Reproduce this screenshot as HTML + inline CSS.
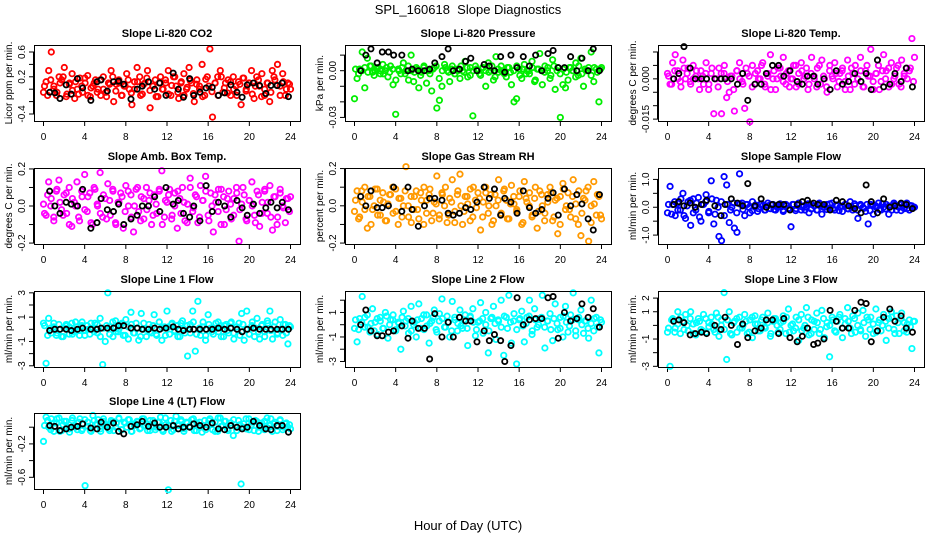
<!DOCTYPE html>
<html><head><meta charset="utf-8">
<style>
html,body{margin:0;padding:0;background:#fff;}
svg{display:block;font-family:"Liberation Sans",sans-serif;}
</style></head>
<body>
<svg id="chart" width="936" height="540" viewBox="0 0 936 540">
<text x="468" y="14" text-anchor="middle" font-size="13" xml:space="preserve">SPL_160618  Slope Diagnostics</text>
<text x="468" y="530" text-anchor="middle" font-size="13">Hour of Day (UTC)</text>
</svg>
<script>
const xTicks = [0,4,8,12,16,20,24];
const blackHours = [0.6,1.1,1.6,2.2,2.7,3.3,3.8,4.6,5.2,5.6,6.2,6.8,7.3,7.8,8.5,9.1,9.6,10.2,10.8,11.3,11.9,12.6,13.1,13.6,14.2,14.6,15.2,15.8,16.4,17.0,17.6,18.2,18.8,19.3,19.8,20.4,21.0,21.6,22.1,22.7,23.2,23.8];

const titles = ["Slope Li-820 CO2","Slope Li-820 Pressure","Slope Li-820 Temp.","Slope Amb. Box Temp.","Slope Gas Stream RH","Slope Sample Flow","Slope Line 1 Flow","Slope Line 2 Flow","Slope Line 3 Flow","Slope Line 4 (LT) Flow"];
const yTitles = ["Licor ppm per min.","kPa per min.","degrees C per min.","degrees C per min.","percent per min.","ml/min per min.","ml/min per min.","ml/min per min.","ml/min per min.","ml/min per min."];
const yLims = [[-0.513,0.713],[-0.0323,0.0165],[-0.0157,0.0126],[-0.205,0.205],[-0.205,0.203],[-1.32,1.41],[-3.1,3.15],[-3.45,2.75],[-3.05,2.52],[-0.74,0.17]];
const yTickVals = [[-0.4,-0.2,0,0.2,0.4,0.6],[-0.03,-0.02,-0.01,0,0.01],[-0.015,-0.01,-0.005,0,0.005,0.01],[-0.2,-0.1,0,0.1,0.2],[-0.2,-0.1,0,0.1,0.2],[-1,-0.5,0,0.5,1],[-3,-2,-1,0,1,2,3],[-3,-2,-1,0,1,2],[-3,-2,-1,0,1,2],[-0.6,-0.4,-0.2,0]];
const yTickLabels = [["-0.4","","","0.2","","0.6"],["-0.03","","","0.00",""],["-0.015","","","0.000","",""],["-0.2","","0.0","","0.2"],["-0.2","","0.0","","0.2"],["-1.0","","0.0","","1.0"],["-3","","-1","","1","","3"],["-3","","-1","","1",""],["-3","","-1","","1","2"],["-0.6","","-0.2",""]];
const colors = ["#ff0000","#00ee00","#ff00ff","#ff00ff","#ff9900","#0000ff","#00ffff","#00ffff","#00ffff","#00ffff"];

const s1 = [-0.05,0.12,0.3,0.6,0.05,-0.1,0.2,0.15,0.35,-0.08,0.1,0.25,-0.15,0.0,0.18,-0.05,0.1,0.22,-0.12,0.05,0.15,0.0,-0.1,0.2,-0.05,0.1,0.3,-0.2,0.08,0.15,-0.1,0.05,0.25,0.0,-0.25,0.12,0.35,0.2,-0.08,0.1,0.3,-0.3,0.05,0.15,-0.12,0.2,0.0,0.1,0.3,-0.1,0.2,0.05,-0.15,0.12,0.25,0.0,0.35,0.1,-0.2,0.15,0.05,0.4,-0.1,0.2,0.65,-0.45,0.1,0.2,0.3,-0.05,0.1,0.15,-0.1,0.2,0.05,0.12,-0.25,0.18,0.0,0.1,0.3,-0.15,0.2,0.05,0.25,-0.1,0.1,-0.2,0.3,0.15,0.4,0.05,0.25,-0.1,0.1,0.0];
const s2 = [-0.018,-0.005,0.001,0.012,-0.011,0.008,0.003,-0.001,0.0,0.002,-0.002,0.004,0.0,-0.004,0.003,-0.009,-0.028,0.001,-0.002,0.005,0.0,-0.006,0.01,-0.007,0.002,-0.011,-0.001,0.003,-0.008,0.0,-0.013,0.002,-0.024,-0.019,-0.01,0.004,0.0,-0.007,0.003,-0.002,0.001,-0.005,0.0,0.006,-0.004,0.002,-0.029,0.003,0.0,-0.003,0.002,-0.01,0.005,0.0,-0.006,0.009,-0.001,0.003,0.0,-0.004,0.002,-0.009,-0.02,-0.018,0.001,-0.005,0.004,0.0,-0.002,0.006,-0.007,0.001,0.011,-0.009,0.003,0.0,-0.005,0.007,-0.012,0.002,-0.03,-0.009,-0.011,-0.006,0.002,0.0,0.005,-0.003,0.008,-0.01,0.0,0.002,0.012,-0.007,0.001,-0.02,0.002];
const s3 = [0.002,-0.002,0.006,0.009,0.003,-0.001,0.007,0.0,0.004,-0.002,0.005,0.001,0.0,0.003,-0.002,0.006,-0.004,0.002,-0.013,0.0,0.004,-0.013,0.002,-0.007,-0.005,0.001,-0.012,0.003,0.006,-0.001,-0.011,0.002,-0.016,0.005,-0.002,0.003,0.0,0.006,-0.003,0.002,0.009,0.0,-0.004,0.004,0.001,0.008,-0.002,0.003,0.0,0.005,-0.003,0.002,0.006,0.0,0.004,-0.002,0.008,0.001,-0.003,0.005,0.007,0.0,-0.005,0.003,0.001,0.006,-0.003,0.002,0.004,-0.001,0.007,-0.004,0.002,0.005,0.0,0.008,-0.003,0.003,0.001,0.011,-0.004,0.002,0.005,-0.001,0.009,0.003,-0.003,0.006,0.0,0.004,-0.002,0.007,0.001,0.004,0.003,0.015,0.008];
const s4 = [0.01,-0.05,0.13,0.04,-0.06,0.08,0.14,-0.02,0.06,-0.04,0.1,-0.11,0.02,0.13,-0.08,0.05,0.17,-0.03,0.07,-0.1,0.09,0.0,0.18,-0.06,0.04,0.12,-0.05,0.08,-0.09,0.02,0.07,-0.12,0.11,0.0,0.06,-0.14,0.09,-0.03,0.05,-0.07,0.1,0.03,-0.1,0.06,-0.04,0.08,0.19,-0.06,0.02,0.09,-0.05,0.07,-0.12,0.04,0.1,-0.08,0.01,0.15,-0.03,0.06,-0.09,0.11,0.03,0.16,-0.05,0.07,-0.14,0.02,0.09,-0.1,0.05,-0.02,0.08,-0.07,0.04,0.1,-0.19,0.01,0.06,-0.08,0.03,0.13,-0.05,0.08,-0.11,0.02,0.09,-0.04,0.11,-0.13,0.05,-0.06,0.07,0.0,-0.09,0.04,0.05];
const s5 = [-0.03,0.08,-0.06,0.02,0.1,-0.12,0.05,-0.02,0.09,-0.05,0.03,0.07,-0.08,0.01,0.06,-0.04,0.09,-0.1,0.04,0.0,0.21,-0.06,0.05,-0.02,0.08,-0.07,0.03,0.1,-0.04,0.06,-0.08,0.02,0.16,-0.05,0.07,0.0,-0.09,0.04,0.14,-0.03,0.06,0.17,-0.1,0.05,0.01,0.09,-0.06,0.03,0.07,-0.13,0.02,0.1,-0.04,0.06,-0.08,0.0,0.14,-0.05,0.08,0.03,-0.07,0.11,0.01,-0.03,0.05,-0.1,0.13,0.02,0.07,-0.06,0.04,-0.12,0.08,0.0,-0.04,0.06,0.1,-0.08,0.03,-0.15,0.05,0.12,-0.02,0.07,-0.06,0.14,0.01,-0.1,-0.16,0.04,0.08,-0.19,0.0,0.13,-0.05,0.05,-0.07];
const s6 = [-0.2,0.75,0.1,-0.3,0.15,-0.1,0.5,-0.4,0.2,-0.65,0.3,-0.1,0.35,-0.5,0.1,0.45,-0.2,0.95,-0.6,0.25,-1.05,-1.2,1.1,0.8,-0.55,0.0,-0.75,-0.9,1.2,0.15,-0.3,0.1,-0.2,0.2,0.0,-0.15,0.1,0.05,-0.1,0.15,-0.05,0.1,-0.1,0.05,0.0,-0.15,0.1,-0.05,-0.7,0.1,-0.05,0.15,-0.1,0.05,0.0,-0.2,0.1,0.05,-0.1,0.15,-0.25,0.0,0.1,-0.05,0.15,-0.1,0.05,0.0,-0.15,0.1,-0.05,0.2,-0.1,0.05,-0.4,0.1,0.0,-0.15,-0.6,0.1,-0.25,0.05,0.15,-0.1,0.0,0.1,-0.25,0.05,0.15,-0.1,0.0,0.1,-0.05,0.15,-0.1,0.05,0.0];
const s7 = [0.5,-2.8,0.9,-0.3,0.2,-0.5,0.4,-0.6,0.1,0.3,-0.4,0.5,-0.2,0.2,-0.5,0.6,-0.1,0.3,-0.4,0.0,0.5,-0.3,0.9,-2.9,-1.0,3.0,0.2,-0.6,0.7,-0.2,0.4,-0.5,0.8,-0.8,1.4,-0.3,0.5,-0.9,1.3,0.0,-0.6,0.4,-0.3,1.2,-0.5,0.6,-0.9,0.2,1.5,-0.4,0.5,-0.2,0.3,-0.6,0.7,-0.3,-2.2,0.4,1.5,-1.8,2.3,-0.5,0.6,-0.9,1.2,0.1,-0.4,0.5,-0.2,0.3,-0.6,0.4,-0.3,0.6,-0.8,0.2,0.5,1.3,-0.9,1.5,-0.4,0.3,-0.6,0.9,-0.8,0.4,-0.2,0.7,1.5,-0.8,0.6,-0.3,0.8,-0.5,0.4,-1.2,0.2];
const s8 = [-0.3,-1.4,0.5,2.3,-0.2,0.8,-0.6,1.3,0.2,-0.8,0.6,-0.3,1.0,-1.1,0.4,0.8,-0.5,0.2,-2.0,1.1,0.3,-0.7,1.5,0.0,-1.0,1.7,0.5,-0.4,0.8,-1.5,0.3,1.2,-0.6,0.9,2.1,-0.2,0.7,-1.0,1.9,0.4,-0.5,1.2,-0.3,0.8,-1.7,0.6,1.3,-0.9,0.2,1.8,-0.7,1.0,-2.3,0.5,1.5,-1.2,0.3,2.0,-2.5,0.6,2.4,-1.5,0.9,-3.2,0.4,1.1,-1.4,0.6,2.0,-0.8,1.3,-0.2,0.5,2.4,-1.9,0.3,0.9,-1.3,1.7,-0.4,0.6,-1.0,1.5,-0.6,0.8,2.6,-0.9,0.4,1.2,-0.7,0.3,-1.1,2.0,-0.5,0.6,-2.3,0.2];
const s9 = [-0.5,-3.0,0.5,-0.2,1.0,-0.6,0.3,0.8,-0.4,1.0,0.1,-0.7,0.5,-0.3,0.8,-0.5,0.2,0.6,-0.3,0.9,-0.8,0.4,2.4,-2.5,1.0,-0.7,0.3,-0.5,0.6,-0.2,0.8,-0.6,0.4,-0.9,0.7,0.1,-0.4,0.6,-0.2,0.9,-0.8,0.3,0.5,-0.5,0.2,0.7,-0.6,1.2,0.0,-0.4,0.6,-1.1,0.8,-0.2,1.3,-0.7,0.4,-0.3,0.9,-0.6,1.1,-0.9,0.2,-2.3,0.6,-0.4,0.3,0.8,-0.9,0.5,1.3,-0.2,0.7,-0.5,0.9,-0.3,1.1,-0.8,0.4,0.6,-0.6,1.2,0.2,-0.4,0.8,-1.1,0.5,1.0,-0.3,0.7,-0.6,0.9,0.2,-0.5,0.4,-1.7,0.3];
const s10 = [-0.17,0.12,0.0,0.1,-0.05,0.05,0.11,-0.04,0.07,0.0,-0.06,0.08,0.02,-0.03,0.1,-0.02,-0.7,0.06,-0.04,0.14,0.03,0.09,-0.05,0.07,0.01,-0.02,0.08,-0.04,0.05,0.1,-0.03,0.06,0.0,0.09,-0.05,0.04,0.07,-0.02,0.1,0.02,-0.04,0.08,0.0,-0.03,0.06,0.12,-0.05,0.03,-0.75,0.08,-0.03,0.13,0.02,0.07,-0.05,0.06,0.01,0.09,-0.04,0.05,0.0,-0.06,0.08,0.03,0.1,-0.03,0.06,-0.05,0.11,0.02,0.07,-0.04,0.05,-0.1,0.0,0.08,-0.68,0.04,-0.02,0.1,0.03,-0.04,0.07,0.0,0.05,-0.03,0.11,0.02,-0.05,0.06,0.01,0.08,-0.03,0.04,0.0,-0.02];

const c1 = [0.05,-0.1,0.15,0.0,-0.05,0.1,0.2,-0.12,0.08,-0.02,0.12,-0.08,0.05,0.18,-0.1,0.02,0.1,-0.05,0.15,0.0,-0.12,0.08,0.2,-0.03,0.1,-0.1,0.05,0.15,-0.06,0.0,0.12,-0.1,0.08,0.18,-0.02,0.05,-0.12,0.1,0.0,0.15,-0.08,0.06,0.2,-0.05,0.1,-0.1,0.03,0.14,-0.07,0.08,0.0,-0.12,0.16,0.05,-0.04,0.1,-0.1,0.2,0.02,-0.06,0.12,0.0,-0.1,0.08,0.18,-0.03,0.1,-0.08,0.05,0.15,-0.12,0.0,0.1,-0.05,0.2,0.06,-0.1,0.12,0.0,0.08];
const c2 = [0.001,-0.002,0.0,0.002,-0.001,0.003,-0.003,0.001,0.0,-0.002,0.002,-0.001,0.001,-0.006,0.0,0.002,-0.002,0.003,0.0,-0.001,0.001,-0.003,0.002,0.0,-0.002,0.001,0.003,-0.005,0.0,0.002,-0.001,0.001,-0.002,0.0,0.003,-0.001,0.002,-0.003,0.0,0.001,-0.002,0.002,0.0,-0.001,0.003,-0.004,0.001,0.0,-0.002,0.002,-0.001,0.0,0.003,-0.003,0.001,-0.002,0.0,0.002,-0.006,0.001,0.0,-0.001,0.002,-0.003,0.003,0.0,-0.002,0.001,-0.001,0.002,0.0,-0.004,0.003,-0.002,0.001,0.0,-0.003,0.002,-0.001,0.001];
const c3 = [0.001,-0.002,0.003,0.0,-0.003,0.004,0.002,-0.001,0.0,0.003,-0.004,0.001,0.002,-0.002,0.004,0.0,-0.003,0.002,0.005,-0.001,0.001,-0.004,0.003,0.0,-0.002,0.004,0.001,-0.003,0.002,0.0,0.005,-0.002,0.001,-0.004,0.003,0.0,0.004,-0.001,0.002,-0.003,0.0,0.005,-0.002,0.003,0.001,-0.004,0.002,0.0,0.004,-0.002,0.001,-0.003,0.005,0.0,0.002,-0.001,0.003,-0.004,0.001,0.004,-0.002,0.0,0.003,-0.003,0.005,0.001,-0.001,0.002,-0.004,0.003,0.0,0.004,-0.002,0.001,0.005,-0.003,0.002,0.0,0.004,-0.001];
const c4 = [-0.04,0.06,0.0,-0.08,0.09,0.02,-0.05,0.07,-0.1,0.04,0.0,-0.06,0.08,-0.02,0.05,-0.09,0.1,0.01,-0.04,0.06,-0.07,0.03,0.09,-0.1,0.02,0.05,-0.03,0.08,-0.06,0.0,0.1,-0.08,0.04,-0.02,0.07,-0.05,0.01,0.09,-0.1,0.03,0.06,-0.07,0.0,0.08,-0.04,0.02,-0.09,0.1,-0.01,0.05,-0.06,0.03,0.08,-0.08,0.0,0.06,-0.03,0.09,-0.1,0.04,0.01,-0.05,0.07,-0.02,0.1,-0.07,0.03,0.0,-0.09,0.06,-0.04,0.08,0.02,-0.06,0.05,-0.1,0.09,-0.01,0.04,-0.03];
const c5 = [0.03,-0.07,0.08,-0.02,0.05,-0.1,0.0,0.09,-0.05,0.02,-0.08,0.06,0.1,-0.03,0.04,-0.06,0.08,0.0,-0.09,0.05,-0.02,0.07,-0.1,0.03,0.09,-0.04,0.01,-0.07,0.06,0.1,-0.05,0.02,-0.09,0.08,0.0,-0.03,0.05,-0.08,0.1,-0.01,0.04,-0.06,0.07,0.0,-0.1,0.06,0.03,-0.04,0.09,-0.07,0.01,0.05,-0.02,0.08,-0.09,0.04,0.0,-0.05,0.1,-0.03,0.06,-0.08,0.02,0.07,-0.06,0.04,-0.1,0.09,0.0,-0.02,0.05,-0.07,0.08,-0.04,0.03,0.1,-0.09,0.01,0.06,-0.05];
const c6 = [0.1,-0.25,0.2,-0.1,0.3,-0.3,0.05,0.25,-0.2,0.15,-0.35,0.1,0.2,-0.15,0.3,-0.25,0.0,0.2,-0.3,0.1,-0.1,0.15,-0.2,0.12,-0.08,0.1,0.0,-0.12,0.08,-0.05,0.12,-0.1,0.05,0.1,-0.08,0.0,0.12,-0.1,0.06,-0.04,0.1,-0.12,0.08,0.02,-0.1,0.12,-0.06,0.05,-0.1,0.1,0.0,-0.08,0.12,-0.05,0.08,-0.12,0.04,0.1,-0.06,0.0,0.12,-0.1,0.06,-0.04,0.1,-0.12,0.08,0.0,-0.08,0.12,-0.06,0.04,-0.1,0.1,0.02,-0.12,0.08,-0.04,0.06,0.0];
const c7 = [0.3,-0.5,0.1,0.5,-0.3,0.0,-0.6,0.4,0.2,-0.4,0.6,-0.1,0.3,-0.5,0.0,0.5,-0.2,0.4,-0.6,0.1,0.3,-0.4,0.6,-0.2,0.0,0.5,-0.5,0.2,0.4,-0.3,0.1,-0.6,0.5,0.0,-0.2,0.3,-0.4,0.6,0.1,-0.5,0.2,0.4,-0.1,-0.6,0.5,0.0,0.3,-0.3,0.6,-0.4,0.1,0.2,-0.5,0.4,-0.2,0.0,0.6,-0.6,0.3,-0.1,0.5,-0.3,0.2,-0.5,0.4,0.0,-0.4,0.6,0.1,-0.2,0.3,-0.6,0.5,-0.1,0.2,-0.4,0.0,0.4,-0.3,0.3];
const c8 = [0.4,-0.4,0.2,0.6,-0.2,0.1,-0.5,0.5,0.3,-0.3,0.7,0.0,0.4,-0.4,0.1,0.6,-0.1,0.5,-0.5,0.2,0.4,-0.3,0.8,-0.1,0.1,0.6,-0.4,0.3,0.5,-0.2,0.2,-0.5,0.6,0.1,-0.1,0.4,-0.3,0.7,0.2,-0.4,0.3,0.5,0.0,-0.5,0.6,0.1,0.4,-0.2,0.7,-0.3,0.2,0.3,-0.4,0.5,-0.1,0.1,0.7,-0.5,0.4,0.0,0.6,-0.2,0.3,-0.4,0.5,0.1,-0.3,0.7,0.2,-0.1,0.4,-0.5,0.6,0.0,0.3,-0.3,0.1,0.5,-0.2,0.4];
const c9 = [-0.2,0.4,-0.5,0.1,0.6,-0.3,0.0,0.5,-0.6,0.2,0.3,-0.4,0.5,-0.1,0.1,-0.5,0.6,0.0,-0.3,0.4,-0.6,0.2,0.5,-0.2,0.0,0.3,-0.5,0.6,0.1,-0.4,0.4,-0.1,0.2,-0.6,0.5,0.0,-0.3,0.3,0.6,-0.5,0.1,-0.2,0.4,-0.4,0.0,0.6,-0.6,0.3,0.2,-0.3,0.5,-0.1,0.0,0.4,-0.5,0.6,-0.2,0.1,0.3,-0.6,0.5,0.0,-0.4,0.2,0.6,-0.3,0.1,-0.5,0.4,0.0,0.3,-0.2,0.6,-0.6,0.2,0.5,-0.4,0.1,-0.1,0.3];
const c10 = [0.02,0.08,-0.03,0.05,0.1,-0.05,0.03,0.07,-0.02,0.11,0.0,0.06,-0.04,0.09,0.01,-0.05,0.08,0.04,-0.02,0.1,0.03,-0.04,0.07,0.0,0.11,-0.03,0.05,0.09,-0.05,0.02,0.06,-0.01,0.1,0.04,-0.04,0.08,0.0,0.06,-0.03,0.11,0.02,-0.05,0.07,0.03,0.09,-0.02,0.05,0.0,0.1,-0.04,0.06,0.02,-0.03,0.08,0.04,-0.05,0.11,0.01,0.07,-0.02,0.05,0.09,-0.04,0.03,0.0,0.1,-0.03,0.06,0.08,-0.05,0.02,0.07,-0.01,0.1,0.04,-0.04,0.09,0.0,0.05,0.03];

const b1 = [-0.05,-0.06,-0.15,0.07,-0.08,0.17,0.02,-0.18,0.12,0.15,-0.03,0.12,0.13,0.08,-0.16,0.0,0.05,0.12,0.0,0.1,-0.1,0.26,0.0,-0.13,0.17,-0.1,-0.05,0.02,0.03,-0.1,-0.06,0.07,-0.05,-0.13,0.07,0.1,0.06,-0.07,0.06,0.06,0.1,-0.12];
const b2 = [0.0,0.01,0.014,0.005,0.012,0.012,0.01,0.01,0.0,0.001,0.0,0.0,0.001,0.005,0.009,0.014,0.0,0.001,0.006,0.008,0.0,0.004,0.003,0.0,0.009,-0.001,0.01,0.002,0.009,0.003,0.01,0.0,0.011,0.013,0.002,0.002,0.009,0.0,0.008,0.0,0.014,0.0];
const b3 = [0.0,0.002,0.012,0.004,0.0,0.0,0.0,0.0,0.0,0.0,0.0,-0.002,0.002,-0.008,-0.002,-0.002,0.002,0.005,0.005,0.001,0.003,-0.001,-0.002,0.001,0.001,-0.002,0.0,-0.004,0.003,-0.002,-0.001,0.002,-0.001,0.002,-0.004,0.007,-0.003,-0.002,0.002,-0.001,0.004,-0.003];
const b4 = [0.08,0.0,-0.04,0.02,0.01,0.0,0.09,-0.12,-0.09,0.04,-0.02,-0.03,0.01,-0.1,-0.07,-0.05,0.0,0.0,0.05,-0.03,0.1,0.01,0.03,-0.04,-0.06,0.0,-0.08,0.11,-0.03,0.02,0.0,-0.06,0.03,-0.01,-0.05,0.01,-0.04,-0.01,0.02,-0.01,0.02,-0.02];
const b5 = [0.05,0.0,0.08,-0.01,-0.01,0.0,0.1,-0.03,0.1,-0.02,-0.11,0.0,0.04,0.04,0.03,-0.04,-0.05,-0.04,-0.01,-0.02,0.02,0.1,0.04,0.09,-0.05,0.04,0.02,-0.04,0.08,-0.01,-0.04,-0.02,0.04,0.07,-0.05,0.09,0.0,0.06,0.01,-0.07,-0.13,0.06];
const b6 = [0.1,0.2,0.05,0.15,0.0,0.1,0.25,0.05,-0.3,0.1,0.3,0.15,0.05,0.85,0.05,0.3,0.0,0.1,0.1,0.1,-0.1,0.1,0.2,0.25,0.15,0.1,0.1,-0.1,0.25,0.2,0.05,-0.05,-0.2,0.8,0.2,-0.2,0.3,0.0,0.05,0.15,0.1,-0.05];
const b7 = [-0.1,0.0,0.0,0.0,-0.1,0.0,0.1,0.0,0.0,0.1,0.1,0.1,0.3,0.3,0.1,0.1,0.0,0.0,0.1,0.0,0.1,0.2,0.0,-0.1,0.0,0.0,0.0,0.0,0.0,0.1,0.0,0.1,0.0,-0.2,0.0,0.1,0.0,0.0,0.0,0.0,0.0,0.0];
const b8 = [0.0,1.2,-0.5,-0.9,-0.9,-0.6,-0.5,-0.1,-1.1,0.3,-0.3,-0.3,-2.8,0.9,-1.0,0.2,-1.0,0.6,0.3,0.3,-1.4,-0.5,-1.3,-0.8,-1.3,-3.0,-1.7,2.2,0.0,0.4,0.5,0.5,2.2,2.3,-1.1,1.0,0.3,0.5,1.7,0.6,1.3,-0.2];
const b9 = [0.3,0.4,0.2,-0.7,-0.6,-0.5,-0.6,0.0,-0.3,0.6,0.0,-1.4,0.1,-0.9,-0.4,-0.2,0.4,0.4,-0.6,0.5,-0.9,-1.2,-0.8,-0.2,-1.4,-1.3,-1.0,1.1,0.3,-0.2,-0.2,1.1,1.7,1.6,-1.2,-0.4,0.6,1.2,0.3,0.7,-0.2,-0.5];
const b10 = [0.02,0.01,-0.04,-0.02,0.0,0.01,0.04,-0.01,-0.02,0.06,0.0,0.05,-0.05,-0.08,0.01,0.03,0.07,0.01,0.05,0.0,0.0,0.02,-0.02,0.0,0.0,0.04,0.02,0.0,0.05,-0.02,-0.03,0.02,0.0,-0.02,0.0,0.07,0.02,-0.02,-0.03,0.02,0.02,-0.06];

const colorSeries = [s1,s2,s3,s4,s5,s6,s7,s8,s9,s10];
const coreSeries = [c1,c2,c3,c4,c5,c6,c7,c8,c9,c10];
const blackSeries = [b1,b2,b3,b4,b5,b6,b7,b8,b9,b10];

const NS = "http://www.w3.org/2000/svg";
const svg = document.getElementById("chart");
const colLeft = [34,345,658];
const rowTop = [45,168,291,413];
const boxW = 266, boxH = 76;

function mk(tag, attrs, parent){
  const e = document.createElementNS(NS, tag);
  for (const k in attrs) e.setAttribute(k, attrs[k]);
  parent.appendChild(e);
  return e;
}

for (let p = 0; p < 10; p++){
  const L = colLeft[p % 3], T = rowTop[Math.floor(p / 3)];
  const g = mk("g", {}, svg);
  
  
  const xScale = h => L + 9.5 + (h / 24) * (boxW - 19);
  const lo = yLims[p][0], hi = yLims[p][1];
  const yScale = v => T + boxH - (v - lo) / (hi - lo) * boxH;

  const title = mk("text", {x: L + boxW / 2, y: T - 8, "text-anchor": "middle", "font-size": "11", "font-weight": "bold"}, g);
  title.textContent = titles[p];
  
  

  const xa = mk("g", {stroke: "#000", "stroke-width": "1"}, g);
  
  
  mk("line", {x1: xScale(xTicks[0]), x2: xScale(xTicks[xTicks.length - 1]), y1: T + boxH + 0.5, y2: T + boxH + 0.5}, xa);
  xTicks.forEach(t => {
    mk("line", {x1: xScale(t), x2: xScale(t), y1: T + boxH, y2: T + boxH + 5}, xa);
    const tl = mk("text", {x: xScale(t), y: T + boxH + 19, "text-anchor": "middle", "font-size": "10", stroke: "none"}, g);
    tl.textContent = t;
    
    
  });

  const ya = mk("g", {stroke: "#000", "stroke-width": "1"}, g);
  
  
  const yt = yTickVals[p];
  mk("line", {x1: L - 0.5, x2: L - 0.5, y1: yScale(yt[0]), y2: yScale(yt[yt.length - 1])}, ya);
  yt.forEach((t, i) => {
    const yy = yScale(t);
    mk("line", {x1: L - 5, x2: L, y1: yy, y2: yy}, ya);
    if (yTickLabels[p][i]) {
      const tl = mk("text", {x: 0, y: 0, transform: `translate(${L - 9},${yy}) rotate(-90)`, "text-anchor": "middle", "font-size": "10"}, g);
      tl.textContent = yTickLabels[p][i];
      
      
    }
  });
  const yl = mk("text", {x: 0, y: 0, transform: `translate(${L - 22},${T + boxH / 2}) rotate(-90)`, "text-anchor": "middle", "font-size": "10"}, g);
  yl.textContent = yTitles[p];
  
  

  const cg = mk("g", {fill: "none", stroke: colors[p], "stroke-width": "1.8"}, g);
  
  
  const cs = coreSeries[p];
  cs.forEach((v, i) => {
    const h = 0.1 + i * 23.8 / (cs.length - 1);
    const c = mk("circle", {cx: xScale(h), cy: yScale(v), r: 2.7}, cg);
    
    
  });
  const ss = colorSeries[p];
  ss.forEach((v, i) => {
    const h = i * 24 / (ss.length - 1);
    const c = mk("circle", {cx: xScale(h), cy: yScale(v), r: 2.7}, cg);
    
    
  });

  const bs = blackSeries[p];
  const bg = mk("g", {fill: "none", stroke: "#000", "stroke-width": "1.8"}, g);
  
  
  const n = Math.min(bs.length, blackHours.length);
  for (let i = 0; i < n; i++){
    const c = mk("circle", {cx: xScale(blackHours[i]), cy: yScale(bs[i]), r: 2.6}, bg);
    
    
  }

  const box = mk("rect", {x: L + 0.5, y: T + 0.5, width: boxW, height: boxH, fill: "none", stroke: "#000", "stroke-width": "1"}, g);
  
  
}
</script>
</body></html>
